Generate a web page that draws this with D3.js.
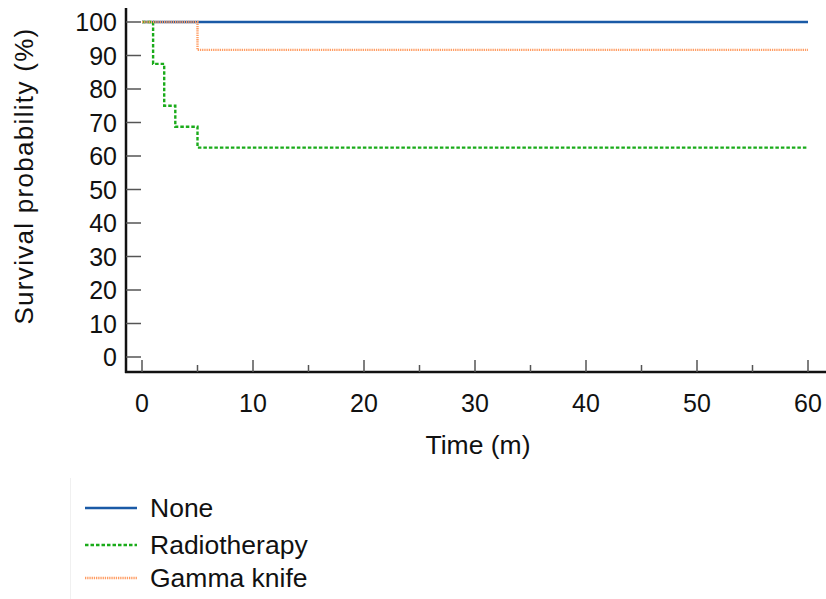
<!DOCTYPE html>
<html>
<head>
<meta charset="utf-8">
<script src="https://cdn.jsdelivr.net/npm/d3@7"></script>
<style>
  body { margin: 0; background: #fff; }
  text { font-family: "Liberation Sans", Arial, sans-serif; fill: #111; }
</style>
</head>
<body>
<div id="wrapper"></div>
<script>
// step points: [time, survival]
const noneSteps = [[0, 100], [60, 100]];
const radioSteps = [[0, 100], [1, 87.5], [2, 75], [3, 68.75], [5, 62.5], [60, 62.5]];
const gammaSteps = [[0, 100], [5, 91.67], [60, 91.67]];
const xTicks = [0, 10, 20, 30, 40, 50, 60];
const yTicks = [0, 10, 20, 30, 40, 50, 60, 70, 80, 90, 100];
const seriesNames = ["None", "Radiotherapy", "Gamma knife"];
const seriesColors = ["#1a5aa6", "#1aab1a", "#ff9c62"];
const seriesDash = [null, "3.5,2", "1.3,0.9"];

function build() {
    const width = 826, height = 599;
    const svg = d3.select("#wrapper").append("svg")
        .attr("width", width)
        .attr("height", height);

    const x = d3.scaleLinear().domain([0, 60]).range([142, 808]);
    const y = d3.scaleLinear().domain([0, 100]).range([357, 22]);
    const axisX = 126, axisY = 372;
    const fs = "25px";

    // axes lines
    svg.append("line")
        .attr("x1", axisX).attr("x2", axisX)
        .attr("y1", 8).attr("y2", axisY + 1)
        .attr("stroke", "#111").attr("stroke-width", 2.5);
    svg.append("line")
        .attr("x1", axisX - 1).attr("x2", width)
        .attr("y1", axisY).attr("y2", axisY)
        .attr("stroke", "#111").attr("stroke-width", 2.5);

    // y ticks (inside)
    svg.append("g").selectAll("line")
        .data(yTicks).enter().append("line")
        .attr("x1", axisX).attr("x2", axisX + 15)
        .attr("y1", d => y(d)).attr("y2", d => y(d))
        .attr("stroke", "#555").attr("stroke-width", 1.5);
    svg.append("g").selectAll("text")
        .data(yTicks).enter().append("text")
        .attr("x", 117)
        .attr("y", d => y(d) + 9)
        .attr("text-anchor", "end")
        .style("font-size", fs)
        .text(d => d);

    // x ticks (inside, minor at 5s)
    const minor = d3.range(5, 60, 10);
    svg.append("g").selectAll("line")
        .data(xTicks).enter().append("line")
        .attr("x1", d => x(d)).attr("x2", d => x(d))
        .attr("y1", axisY).attr("y2", axisY - 12)
        .attr("stroke", "#555").attr("stroke-width", 1.5);
    svg.append("g").selectAll("line")
        .data(minor).enter().append("line")
        .attr("x1", d => x(d)).attr("x2", d => x(d))
        .attr("y1", axisY).attr("y2", axisY - 7)
        .attr("stroke", "#555").attr("stroke-width", 1.5);
    svg.append("g").selectAll("text")
        .data(xTicks).enter().append("text")
        .attr("x", d => x(d))
        .attr("y", 412)
        .attr("text-anchor", "middle")
        .style("font-size", fs)
        .text(d => d);

    // axis titles
    svg.append("text")
        .attr("transform", "translate(33,176) rotate(-90)")
        .attr("text-anchor", "middle")
        .style("font-size", "26px")
        .style("letter-spacing", "1.3px")
        .text("Survival probability (%)");
    svg.append("text")
        .attr("x", 478).attr("y", 454)
        .attr("text-anchor", "middle")
        .style("font-size", "26.5px")
        .text("Time (m)");

    // curves
    const line = d3.line()
        .x(d => x(d[0]))
        .y(d => y(d[1]))
        .curve(d3.curveStepAfter);
    const allSteps = [noneSteps, radioSteps, gammaSteps];
    allSteps.forEach((s, i) => {
        svg.append("path")
            .datum(s)
            .attr("d", line)
            .attr("fill", "none")
            .attr("stroke", seriesColors[i])
            .attr("stroke-width", i == 0 ? 2.5 : 2.4)
            .attr("stroke-dasharray", seriesDash[i]);
    });

    // legend
    svg.append("line")
        .attr("x1", 70.5).attr("x2", 70.5)
        .attr("y1", 478).attr("y2", height)
        .attr("stroke", "#f0f0f0").attr("stroke-width", 1);
    const leg = svg.append("g").selectAll("g")
        .data(seriesNames).enter().append("g")
        .attr("transform", (d, i) => `translate(0,${[508, 545, 578][i]})`);
    leg.append("line")
        .attr("x1", 85).attr("x2", 137)
        .attr("y1", 0).attr("y2", 0)
        .attr("stroke", (d, i) => seriesColors[i])
        .attr("stroke-width", (d, i) => i == 0 ? 2.5 : 2.4)
        .attr("stroke-dasharray", (d, i) => seriesDash[i]);
    leg.append("text")
        .attr("x", 150).attr("y", 9)
        .style("font-size", "26.5px")
        .text(d => d);
}

build();
</script>
</body>
</html>
